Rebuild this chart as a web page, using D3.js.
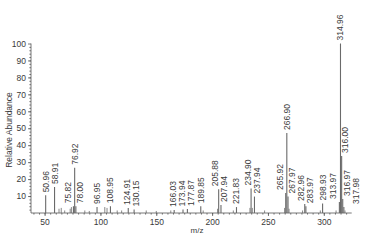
<!DOCTYPE html>
<html>
<head>
<meta charset="utf-8">
<script src="https://cdn.jsdelivr.net/npm/d3@7"></script>
<style>
  body { margin: 0; background: #fff; }
  text { font-family: "Liberation Sans", Arial, sans-serif; fill: #3a3a3a; }
</style>
</head>
<body>
<div id="chart"></div>
<script>

// labelled peaks (m/z, relative abundance %)
const peakMz = [50.96, 58.91, 75.82, 76.92, 78.00, 96.95, 108.95, 124.91, 130.15,
  166.03, 173.94, 177.87, 189.85, 205.88, 207.94, 221.83, 234.90, 237.94,
  265.92, 266.90, 267.97, 282.96, 283.97, 298.93, 313.97, 314.96, 316.00, 316.97, 317.98];
const peakAbund = [10.4, 15.3, 4, 26.7, 4, 3.5, 4, 3, 2,
  1.8, 2, 2.4, 4, 14, 4.7, 3.5, 14.5, 9.7,
  11.8, 47.2, 9.7, 5.3, 4, 5.6, 6.5, 100, 33.6, 8.3, 3.5];
const peakLabels = ["50.96", "58.91", "75.82", "76.92", "78.00", "96.95", "108.95", "124.91", "130.15",
  "166.03", "173.94", "177.87", "189.85", "205.88", "207.94", "221.83", "234.90", "237.94",
  "265.92", "266.90", "267.97", "282.96", "283.97", "298.93", "313.97", "314.96", "316.00", "316.97", "317.98"];

// small unlabelled peaks
const minorMz = [62.9, 64.9, 68, 72.9, 74, 86, 90, 103.9, 105.9, 115, 119, 141, 150, 163,
  192, 204.9, 219, 233.9, 236, 247, 264.9, 268.9, 281, 296.9, 311, 319];
const minorAbund = [2.5, 3, 1.5, 2.5, 3.5, 1.5, 1.2, 3.5, 3, 1.5, 1.5, 1.5, 1.2, 1.5,
  1.5, 2.5, 1.5, 3, 3, 1.5, 3, 2.5, 1.5, 1.5, 1.5, 1.5];

const xTicks = [50, 100, 150, 200, 250, 300];
const yTicks = [10, 20, 30, 40, 50, 60, 70, 80, 90, 100];

const W = 367, H = 240;
const axisX = 31;

const svg = d3.select("#chart").append("svg")
  .attr("width", W).attr("height", H);

const x = d3.scaleLinear().domain([38, 325]).range([31.2, 351.7]);
const y = d3.scaleLinear().domain([0, 100]).range([213, 43.5]);
const base = y(0);

// ==== axes ====
const xAxis = svg.append("g")
  .attr("transform", `translate(0,${base})`)
  .call(d3.axisBottom(x).tickValues(xTicks).tickSize(3).tickPadding(3).tickFormat(d3.format("d")));
xAxis.select(".domain").attr("d", `M${axisX},0H${x(325)}`);

svg.append("g")
  .attr("transform", `translate(0,${base})`)
  .call(d3.axisBottom(x).tickValues(d3.range(40, 325, 5)).tickSize(1.6).tickFormat(""))
  .select(".domain").remove();

const yAxis = svg.append("g")
  .attr("transform", `translate(${axisX},0)`)
  .call(d3.axisLeft(y).tickValues(yTicks).tickSize(3).tickPadding(2));
yAxis.select(".domain").attr("d", `M0,${base}V${y(100)}`);

svg.append("g")
  .attr("transform", `translate(${axisX},0)`)
  .call(d3.axisLeft(y).tickValues(d3.range(2, 100, 2)).tickSize(1.6).tickFormat(""))
  .select(".domain").remove();

svg.selectAll(".domain, .tick line").attr("stroke", "#555").attr("stroke-width", 0.8);
svg.selectAll(".tick text").attr("font-size", 8.5).attr("fill", "#3a3a3a")
  .attr("font-family", "'Liberation Sans', Arial, sans-serif");

svg.append("text")
  .attr("x", 197).attr("y", 233)
  .attr("text-anchor", "middle")
  .attr("font-size", 8)
  .text("m/z");

svg.append("text")
  .attr("transform", `translate(12,130) rotate(-90)`)
  .attr("text-anchor", "middle")
  .attr("font-size", 8.5)
  .text("Relative Abundance");

// ==== peaks ====
const peaks = peakMz.map((m, i) => ({ mz: m, ab: peakAbund[i], label: peakLabels[i] }));
const minor = minorMz.map((m, i) => ({ mz: m, ab: minorAbund[i] }));

svg.append("g").selectAll("line")
  .data(minor.concat(peaks))
  .join("line")
    .attr("x1", d => x(d.mz)).attr("x2", d => x(d.mz))
    .attr("y1", base).attr("y2", d => y(d.ab))
    .attr("stroke", "#6a6a6a")
    .attr("stroke-width", d => d.label ? 1.1 : 0.8);

// labels: measure, then nudge sideways so they don't collide
const labels = svg.append("g").selectAll("text")
  .data(peaks)
  .join("text")
    .attr("font-size", 8.5)
    .attr("text-anchor", "start")
    .attr("dy", "0.35em")
    .text(d => d.label);

labels.each(function(d) {
  d.len = this.getComputedTextLength();
  d.x0 = x(d.mz);
  d.pos = d.x0;
  d.bottom = y(d.ab) - 3;
  d.top = d.bottom - d.len;
});

const gap = 9, lineGap = 5;
for (let it = 0; it < 200; it++) {
  for (let i = 0; i < peaks.length; i++) {
    const a = peaks[i];
    // keep off taller peak lines
    peaks.forEach(p => {
      if (p === a || y(p.ab) >= a.bottom) return;
      const xl = x(p.mz);
      if (Math.abs(a.pos - xl) < lineGap) {
        a.pos = a.mz < p.mz ? xl - lineGap : xl + lineGap;
      }
    });
    for (let j = i + 1; j < peaks.length; j++) {
      const b = peaks[j];
      if (!(a.top < b.bottom && b.top < a.bottom)) continue;
      const d = b.pos - a.pos;
      if (d < gap) {
        const s = (gap - d) / 2;
        a.pos -= s;
        b.pos += s;
      }
    }
  }
}

labels.attr("transform", d => `translate(${d.pos},${d.bottom}) rotate(-90)`);

</script>
</body>
</html>
